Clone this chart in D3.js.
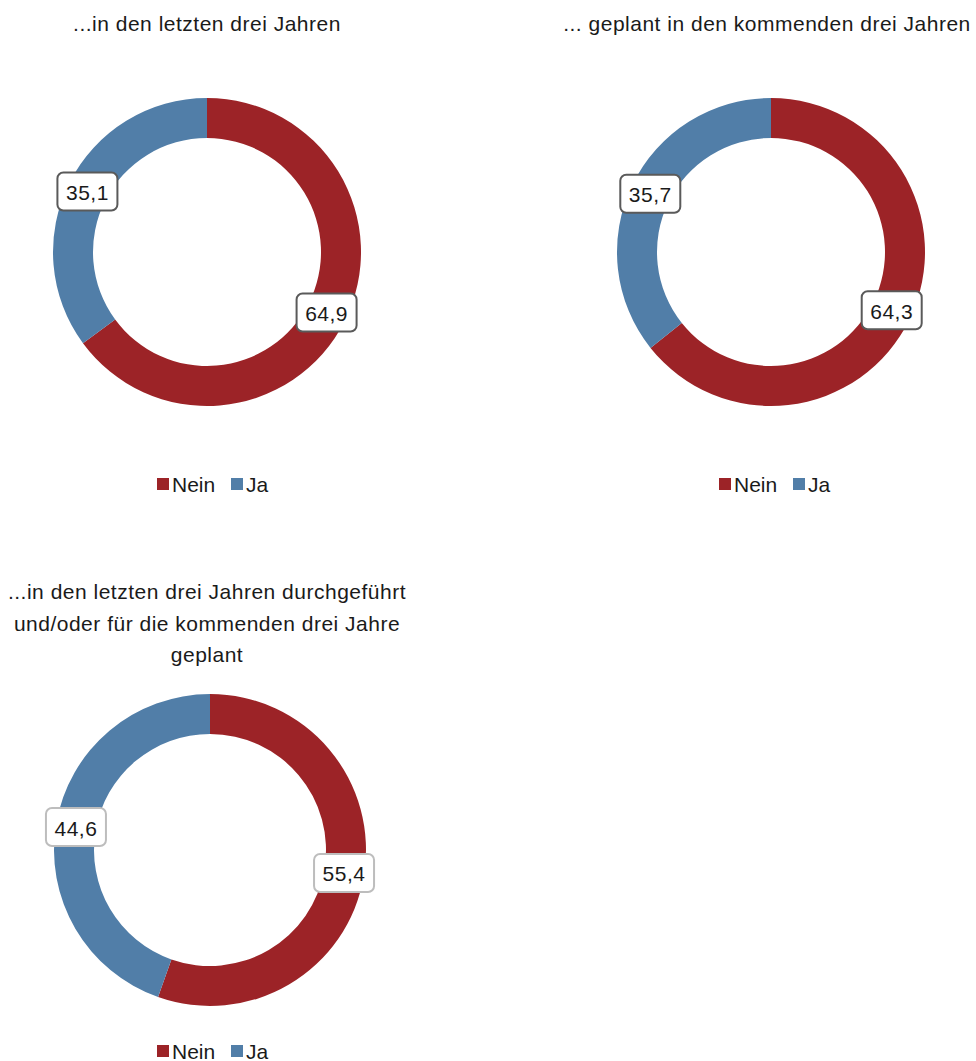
<!DOCTYPE html>
<html><head><meta charset="utf-8">
<script src="https://cdn.jsdelivr.net/npm/d3@7"></script>
<style>
body{margin:0;background:#fff;}
text{font-family:"Liberation Sans Narrow","Arial Narrow","Liberation Sans",sans-serif;fill:#1a1a1a;}
</style></head>
<body>
<svg id="c" width="976" height="1061"></svg>
<script>
const categories = ["Nein", "Ja"];
const colors = ["#9c2327", "#517ea8"];
const titles = [
  ["...in den letzten drei Jahren"],
  ["... geplant in den kommenden drei Jahren"],
  ["...in den letzten drei Jahren durchgeführt", "und/oder für die kommenden drei Jahre", "geplant"]
];
const valuesChart1 = [64.9, 35.1];
const valuesChart2 = [64.3, 35.7];
const valuesChart3 = [55.4, 44.6];
const labelsChart1 = ["64,9", "35,1"];
const labelsChart2 = ["64,3", "35,7"];
const labelsChart3 = ["55,4", "44,6"];

const layouts = [
  {cx:207, cy:252, r:154, titleX:207, titleY:[25], legendX:157, legendY:484, box:"#5a5a5a"},
  {cx:771, cy:252, r:154, titleX:767, titleY:[25], legendX:719, legendY:484, box:"#5a5a5a"},
  {cx:210, cy:850, r:156, titleX:207, titleY:[593,625,656], legendX:157, legendY:1051, box:"#bdbdbd"}
];
const data = [
  {values:valuesChart1, labels:labelsChart1},
  {values:valuesChart2, labels:labelsChart2},
  {values:valuesChart3, labels:labelsChart3}
];

const svg = d3.select("#c");
const pie = d3.pie().sort(null).value(d => d);

data.forEach((d, i) => {
  const L = layouts[i];
  const g = svg.append("g");
  titles[i].forEach((t, j) => {
    g.append("text").attr("x", L.titleX).attr("y", L.titleY[j])
      .attr("text-anchor", "middle").attr("dominant-baseline", "middle")
      .style("font-size", "21px").style("letter-spacing", "0.5px").text(t);
  });
  const inner = L.r - 40;
  const arc = d3.arc().innerRadius(inner).outerRadius(L.r);
  const mid = d3.arc().innerRadius((inner + L.r) / 2).outerRadius((inner + L.r) / 2);
  const arcs = pie(d.values);
  const cg = g.append("g").attr("transform", `translate(${L.cx},${L.cy})`);
  cg.selectAll("path").data(arcs).enter().append("path")
    .attr("d", arc).attr("fill", (a, k) => colors[k]);
  arcs.forEach((a, k) => {
    const [x, y] = mid.centroid(a);
    const lg = cg.append("g").attr("transform", `translate(${x},${y})`);
    lg.append("rect").attr("x", -30).attr("y", -19).attr("width", 60).attr("height", 38)
      .attr("rx", 6).attr("fill", "#fff").attr("stroke", L.box).attr("stroke-width", 2);
    lg.append("text").attr("text-anchor", "middle").attr("dominant-baseline", "central")
      .attr("y", 1).style("font-size", "21px").style("letter-spacing", "0.5px").text(d.labels[k]);
  });
  const leg = g.append("g").attr("transform", `translate(${L.legendX},${L.legendY})`);
  const offs = [0, 74];
  categories.forEach((c, k) => {
    leg.append("rect").attr("x", offs[k]).attr("y", -6).attr("width", 12).attr("height", 12).attr("fill", colors[k]);
    leg.append("text").attr("x", offs[k] + 15).attr("y", 0).attr("dominant-baseline", "central")
      .style("font-size", "21px").text(c);
  });
});
</script>
</body></html>
